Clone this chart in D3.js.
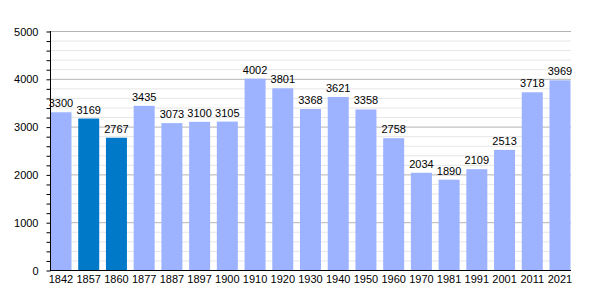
<!DOCTYPE html>
<html><head><meta charset="utf-8">
<script src="https://cdn.jsdelivr.net/npm/d3@7"></script>
<style>body{margin:0;background:#fff}svg{display:block}text{font-family:"Liberation Sans",Arial,sans-serif}</style>
</head><body><svg id="c" width="600" height="300"></svg>
<script>
const years = ["1842","1857","1860","1877","1887","1897","1900","1910","1920","1930","1940","1950","1960","1970","1981","1991","2001","2011","2021"];
const population = [3300,3169,2767,3435,3073,3100,3105,4002,3801,3368,3621,3358,2758,2034,1890,2109,2513,3718,3969];
const highlighted = ["1857","1860"];
const yTicks = [0,1000,2000,3000,4000,5000];

(function(){
const svg = d3.select("#c");
const pl=50, pr=571, pt=31, pb=270;
const x = d3.scaleBand().domain(years).range([50.5, 570.5]).paddingInner(0.2424).paddingOuter(0);
const y = d3.scaleLinear().domain([0,5000]).range([pb, pt]);

const minor = d3.range(0,5001,200).filter(v=>v%1000!==0);
svg.append("g").selectAll("line").data(minor).join("line")
  .attr("x1",pl).attr("x2",pr).attr("y1",d=>y(d)+0.5).attr("y2",d=>y(d)+0.5)
  .attr("stroke","#e6e6e6").attr("stroke-width",1);
svg.append("g").selectAll("line").data(yTicks.filter(v=>v>0)).join("line")
  .attr("x1",pl).attr("x2",pr).attr("y1",d=>y(d)+0.5).attr("y2",d=>y(d)+0.5)
  .attr("stroke","#b4b4b4").attr("stroke-width",1);

svg.append("g").selectAll("rect").data(years).join("rect")
  .attr("x",d=>x(d)).attr("width",x.bandwidth())
  .attr("y",(d,i)=>y(population[i])).attr("height",(d,i)=>pb-y(population[i]))
  .attr("fill",d=>highlighted.includes(d)?"#0079c9":"#9db3ff");

svg.append("g").selectAll("text").data(years).join("text")
  .attr("x",d=>x(d)+x.bandwidth()/2).attr("y",(d,i)=>y(population[i])-5)
  .attr("text-anchor","middle").attr("font-size",11).attr("fill","#000")
  .text((d,i)=>population[i]);

const ya = d3.axisLeft(y).tickValues(d3.range(0,5001,200)).tickSize(4)
  .tickFormat(d=>yTicks.includes(d)?d:"");
const yg = svg.append("g").attr("transform",`translate(${pl+0.5},0.5)`).call(ya);
yg.select(".domain").remove();
yg.selectAll(".tick line").attr("stroke","#000");
yg.selectAll(".tick text").attr("font-size",11).attr("x",-12).attr("fill","#000").attr("font-family","Liberation Sans, Arial, sans-serif");
svg.append("line").attr("x1",pl+0.5).attr("x2",pl+0.5).attr("y1",pt).attr("y2",pb+1).attr("stroke","#000");

svg.append("line").attr("x1",pl).attr("x2",pr).attr("y1",pb+0.5).attr("y2",pb+0.5).attr("stroke","#000");
svg.append("g").selectAll("text").data(years).join("text")
  .attr("x",d=>x(d)+x.bandwidth()/2).attr("y",pb+13)
  .attr("text-anchor","middle").attr("font-size",11).attr("fill","#000").text(d=>d);
})();
</script></body></html>
